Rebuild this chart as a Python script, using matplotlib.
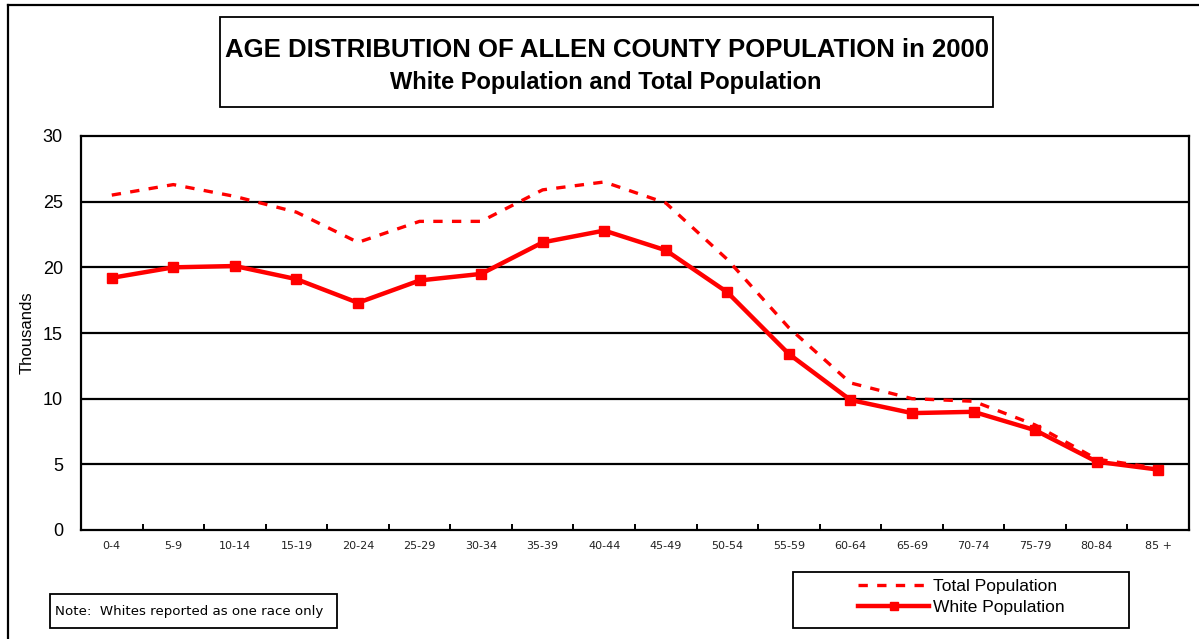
import matplotlib.pyplot as plt
from matplotlib.lines import Line2D
from matplotlib.patches import Rectangle

plt.rcParams["font.family"] = ["Liberation Sans", "DejaVu Sans"]

age_groups = ["0-4", "5-9", "10-14", "15-19", "20-24", "25-29", "30-34",
              "35-39", "40-44", "45-49", "50-54", "55-59", "60-64", "65-69",
              "70-74", "75-79", "80-84", "85 +"]
total_pop = [25.5, 26.3, 25.4, 24.2, 21.9, 23.5, 23.5, 25.9, 26.5, 24.9,
             20.6, 15.4, 11.2, 10.0, 9.8, 8.0, 5.4, 4.7]
white_pop = [19.2, 20.0, 20.1, 19.1, 17.3, 19.0, 19.5, 21.9, 22.8, 21.3,
             18.1, 13.4, 9.9, 8.9, 9.0, 7.6, 5.2, 4.6]
y_ticks = [0, 5, 10, 15, 20, 25, 30]

W, H = 1199, 639
fig = plt.figure(figsize=(W / 100, H / 100), dpi=100)


def fx(px):
    return px / W


def fy(py):
    return 1 - py / H


def box(x0, y0, x1, y1):
    fig.add_artist(Rectangle((fx(x0), fy(y1)), fx(x1 - x0), (y1 - y0) / H,
                             transform=fig.transFigure, fill=False,
                             edgecolor="black", lw=1.3))


# outer frame (left and top edges)
fig.add_artist(Line2D([fx(8), fx(8)], [fy(5), 0], transform=fig.transFigure,
                      color="black", lw=1.6))
fig.add_artist(Line2D([fx(8), 1], [fy(5), fy(5)], transform=fig.transFigure,
                      color="black", lw=1.6))

ax = fig.add_axes([fx(81), fy(530), fx(1189 - 81), (530 - 136) / H])
x = range(len(age_groups))
ax.plot(x, total_pop, color="red", lw=2.4, linestyle=(0, (2.8, 2.8)),
        label="Total Population", zorder=3)
ax.plot(x, white_pop, color="red", lw=3.2, marker="s", markersize=7,
        label="White Population", zorder=4)

ax.set_xlim(-0.5, len(age_groups) - 0.5)
ax.set_ylim(0, 30)
ax.set_yticks(y_ticks)
ax.set_yticklabels([str(v) for v in y_ticks], fontsize=13)
ax.tick_params(axis="y", length=0, pad=13)
for v in y_ticks[1:-1]:
    ax.axhline(v, color="black", lw=1.6, zorder=1)

ax.set_xticks(x)
ax.set_xticklabels(age_groups, fontsize=8, family="DejaVu Sans",
                   color="#222222")
ax.tick_params(axis="x", length=0, pad=8)
ax.set_xticks([i + 0.5 for i in range(len(age_groups) - 1)], minor=True)
ax.tick_params(axis="x", which="minor", direction="in", length=4, width=1.4)
for s in ax.spines.values():
    s.set_linewidth(1.6)
ax.set_ylabel("Thousands", fontsize=12, labelpad=6)

# title box
box(220, 17, 993, 107)
fig.text(fx(607), fy(50), "AGE DISTRIBUTION OF ALLEN COUNTY POPULATION in 2000",
         ha="center", va="center", fontsize=18.5, fontweight="bold")
fig.text(fx(606), fy(83), "White Population and Total Population",
         ha="center", va="center", fontsize=17, fontweight="bold")

# note box
box(50, 594, 337, 628)
fig.text(fx(55), fy(611), "Note:  Whites reported as one race only",
         ha="left", va="center", fontsize=9.6, family="DejaVu Sans")

# legend box
box(793, 572, 1129, 628)
handles, labels = ax.get_legend_handles_labels()
fig.legend(handles, labels, loc="center left",
           bbox_to_anchor=(fx(858), fy(597)), frameon=False, fontsize=12.5,
           handlelength=4.1, borderaxespad=0, borderpad=0, labelspacing=0.3,
           handletextpad=0.2, markerscale=0.8)

fig.savefig("out.png", dpi=100)
